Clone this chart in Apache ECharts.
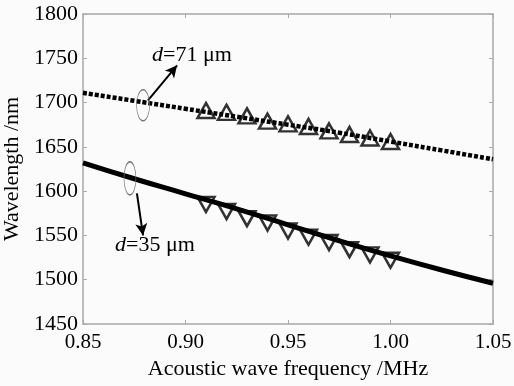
<!DOCTYPE html>
<html>
<head>
<meta charset="utf-8">
<style>
  html, body { margin: 0; padding: 0; background: #fbfbfb; }
  #chart { width: 514px; height: 386px; }
</style>
<script src="https://cdn.jsdelivr.net/npm/echarts@6/dist/echarts.min.js"></script>
</head>
<body>
<div id="chart"></div>
<script>
// theory curves
var freqLine = [0.85, 0.875, 0.90, 0.925, 0.95, 0.975, 1.00, 1.025, 1.05];
var d71Line = [1711, 1702, 1693, 1684, 1675, 1666, 1656, 1646, 1636];
var d35Line = [1632, 1614, 1597, 1580, 1562, 1544, 1527, 1511, 1496];

// measured points
var freqMeas = [0.91, 0.92, 0.93, 0.94, 0.95, 0.96, 0.97, 0.98, 0.99, 1.00];
var d71Meas = [1691, 1689, 1685, 1679, 1676, 1673, 1668, 1664, 1660, 1656];
var d35Meas = [1585, 1577, 1569, 1564, 1555, 1548, 1542, 1534, 1528, 1522];

// annotations, in data coordinates
var ellipse71 = [0.8793, 1697];
var ellipse35 = [0.8729, 1614.5];
var arrow71 = [[0.8817, 1702.5], [0.8959, 1742]];
var arrow35 = [[0.8763, 1597.5], [0.8793, 1550]];
var label71 = [0.8837, 1753];
var label35 = [0.8656, 1539];

var FONT = '"Liberation Serif", "DejaVu Serif", serif';
var AXIS_GRAY = '#a8a8a8';

function pairs(xs, ys) {
    return xs.map(function (x, i) { return [x, ys[i]]; });
}

var chart = echarts.init(document.getElementById('chart'));

var xBase = {
    type: 'value', min: 0.85, max: 1.05, interval: 0.05,
    axisLine: { show: true, onZero: false, lineStyle: { color: AXIS_GRAY, width: 1.5 } },
    axisTick: { show: true, inside: true, length: 4, lineStyle: { color: AXIS_GRAY } },
    splitLine: { show: false }
};
var yBase = {
    type: 'value', min: 1450, max: 1800, interval: 50,
    axisLine: { show: true, onZero: false, lineStyle: { color: AXIS_GRAY, width: 1.5 } },
    axisTick: { show: true, inside: true, length: 4, lineStyle: { color: AXIS_GRAY } },
    splitLine: { show: false }
};

var option = {
    backgroundColor: '#fbfbfb',
    animation: false,
    textStyle: { fontFamily: FONT },
    grid: { left: 83, right: 21, top: 14, bottom: 62, outerBoundsMode: 'none' },
    xAxis: [
        Object.assign({}, xBase, {
            position: 'bottom',
            name: 'Acoustic wave frequency /MHz',
            nameLocation: 'middle', nameGap: 34,
            nameTextStyle: { fontFamily: FONT, fontSize: 22, color: '#000' },
            axisLabel: {
                fontFamily: FONT, fontSize: 21, color: '#000', margin: 8,
                formatter: function (v) { return v.toFixed(2); }
            }
        }),
        Object.assign({}, xBase, { position: 'top', axisLabel: { show: false } })
    ],
    yAxis: [
        Object.assign({}, yBase, {
            position: 'left',
            name: 'Wavelength /nm',
            nameLocation: 'middle', nameGap: 56,
            nameTextStyle: { fontFamily: FONT, fontSize: 22, color: '#000' },
            axisLabel: {
                fontFamily: FONT, fontSize: 22, color: '#000', margin: 5,
                formatter: function (v) { return String(v); }
            }
        }),
        Object.assign({}, yBase, { position: 'right', axisLabel: { show: false } })
    ],
    series: [
        {
            name: 'd=71 theory', type: 'line', data: pairs(freqLine, d71Line),
            showSymbol: false, smooth: true,
            lineStyle: { color: '#000', width: 4.5, type: [4, 2] },
            markPoint: {
                symbol: 'circle', symbolSize: [13, 31], silent: true,
                itemStyle: { color: 'rgba(0,0,0,0)', borderColor: '#777', borderWidth: 1 },
                label: { show: false },
                data: [{ coord: ellipse71 }]
            },
            markLine: {
                silent: true, symbol: ['none', 'arrow'], symbolSize: [9, 12],
                lineStyle: { color: '#000', width: 2, type: 'solid' },
                label: { show: false },
                data: [[{ coord: arrow71[0] }, { coord: arrow71[1] }]]
            }
        },
        {
            name: 'd=35 theory', type: 'line', data: pairs(freqLine, d35Line),
            showSymbol: false, smooth: true,
            lineStyle: { color: '#000', width: 5 },
            markPoint: {
                symbol: 'circle', symbolSize: [12, 33], silent: true,
                itemStyle: { color: 'rgba(0,0,0,0)', borderColor: '#777', borderWidth: 1 },
                label: { show: false },
                data: [{ coord: ellipse35 }]
            },
            markLine: {
                silent: true, symbol: ['none', 'arrow'], symbolSize: [9, 12],
                lineStyle: { color: '#000', width: 2, type: 'solid' },
                label: { show: false },
                data: [[{ coord: arrow35[0] }, { coord: arrow35[1] }]]
            }
        },
        {
            name: 'd=71 measured', type: 'scatter', data: pairs(freqMeas, d71Meas),
            symbol: 'triangle', symbolSize: [17, 15],
            itemStyle: { color: 'rgba(0,0,0,0)', borderColor: '#000', borderWidth: 2.5 }
        },
        {
            name: 'd=35 measured', type: 'scatter', data: pairs(freqMeas, d35Meas),
            symbol: 'triangle', symbolSize: [17, 15], symbolRotate: 180,
            itemStyle: { color: 'rgba(0,0,0,0)', borderColor: '#000', borderWidth: 2.5 }
        }
    ]
};

chart.setOption(option);

// curve labels placed from data coordinates
function curveLabel(coord, num) {
    var p = chart.convertToPixel({ gridIndex: 0 }, coord);
    return {
        type: 'text', x: p[0], y: p[1],
        style: {
            text: '{i|d}=' + num + ' μm',
            rich: {
                i: { fontFamily: FONT, fontSize: 22, fontStyle: 'italic', fill: '#000' }
            },
            fontFamily: FONT, fontSize: 22, fill: '#000',
            verticalAlign: 'middle', align: 'left'
        }
    };
}

chart.setOption({
    graphic: [curveLabel(label71, 71), curveLabel(label35, 35)]
});
</script>
</body>
</html>
